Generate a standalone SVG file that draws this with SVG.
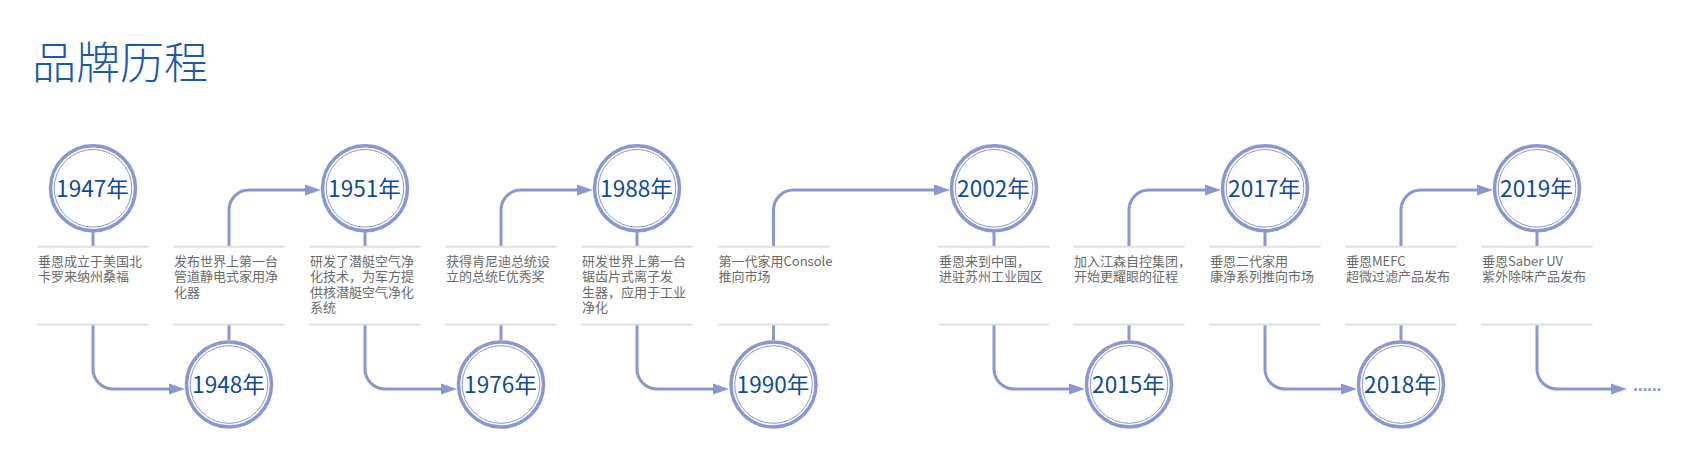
<svg xmlns="http://www.w3.org/2000/svg" width="1707" height="461" viewBox="0 0 1707 461">
<style>
.title{font-family:"Noto Sans CJK SC","Noto Sans",sans-serif;font-size:44px;font-weight:300;fill:#1b5aab}
.ring{fill:#fff;stroke:#8a97d0;stroke-width:3.5}
.inner{fill:none;stroke:#8a97d0;stroke-width:1}
.yr{font-family:"Noto Sans CJK SC","Noto Sans",sans-serif;font-size:22.6px;fill:#0f4a9c;text-anchor:middle}
.sep{stroke:#dfdfdf;stroke-width:2}
.desc{font-family:"Noto Sans CJK SC","Noto Sans",sans-serif;font-size:13px;fill:#6a6a6a}
.conn{fill:none;stroke:#8a97d0;stroke-width:3}
.dots{font-family:"Liberation Sans",sans-serif;font-size:18px;font-weight:bold;fill:#8a97d0;letter-spacing:-0.3px}
</style>
<defs>
<marker id="arr" markerUnits="userSpaceOnUse" markerWidth="16" markerHeight="12" viewBox="0 0 16 12" refX="8" refY="6" orient="auto">
<path d="M0,0.5 L16,6 L0,11.5 z" fill="#8a97d0"/>
</marker>
</defs>
<text class="title" x="32" y="79">品牌历程</text>

<g id="connectors">
<path class="conn" d="M93 232 V246 M229 325 V340 M365 232 V246 M501 325 V340 M637 232 V246 M773.5 325 V340 M994 232 V246 M1129 325 V340 M1265 232 V246 M1401 325 V340 M1537 232 V246"/>
<path class="conn" marker-end="url(#arr)" d="M93 325 V369 A20 20 0 0 0 113 389 H177"/>
<path class="conn" marker-end="url(#arr)" d="M229 246 V210 A20 20 0 0 1 249 190 H313"/>
<path class="conn" marker-end="url(#arr)" d="M365 325 V369 A20 20 0 0 0 385 389 H449"/>
<path class="conn" marker-end="url(#arr)" d="M501 246 V210 A20 20 0 0 1 521 190 H585"/>
<path class="conn" marker-end="url(#arr)" d="M637 325 V369 A20 20 0 0 0 657 389 H721"/>
<path class="conn" marker-end="url(#arr)" d="M773.5 246 V210 A20 20 0 0 1 793.5 190 H942"/>
<path class="conn" marker-end="url(#arr)" d="M994 325 V369 A20 20 0 0 0 1014 389 H1077"/>
<path class="conn" marker-end="url(#arr)" d="M1129 246 V210 A20 20 0 0 1 1149 190 H1213"/>
<path class="conn" marker-end="url(#arr)" d="M1265 325 V369 A20 20 0 0 0 1285 389 H1349"/>
<path class="conn" marker-end="url(#arr)" d="M1401 246 V210 A20 20 0 0 1 1421 190 H1485"/>
<path class="conn" marker-end="url(#arr)" d="M1537 325 V369 A20 20 0 0 0 1557 389 H1619"/>
</g>
<text class="dots" x="1633" y="391">......</text>

<g id="n1947">
<line class="sep" x1="37.5" y1="246.7" x2="148.5" y2="246.7"/><line class="sep" x1="37.5" y1="324.5" x2="148.5" y2="324.5"/>
<circle class="ring" cx="93" cy="188.3" r="42.5"/><circle class="inner" cx="93" cy="188.3" r="38.8"/>
<text class="yr" x="92.5" y="196.8">1947年</text>
<text class="desc" x="38" y="266">垂恩成立于美国北<tspan x="38" dy="15.3">卡罗来纳州桑福</tspan></text>
</g>
<g id="n1948">
<line class="sep" x1="173.5" y1="246.7" x2="284.5" y2="246.7"/><line class="sep" x1="173.5" y1="324.5" x2="284.5" y2="324.5"/>
<circle class="ring" cx="229" cy="384.5" r="42.5"/><circle class="inner" cx="229" cy="384.5" r="38.8"/>
<text class="yr" x="228.5" y="393">1948年</text>
<text class="desc" x="174" y="266">发布世界上第一台<tspan x="174" dy="15.3">管道静电式家用净</tspan><tspan x="174" dy="15.3">化器</tspan></text>
</g>
<g id="n1951">
<line class="sep" x1="309.5" y1="246.7" x2="420.5" y2="246.7"/><line class="sep" x1="309.5" y1="324.5" x2="420.5" y2="324.5"/>
<circle class="ring" cx="365" cy="188.3" r="42.5"/><circle class="inner" cx="365" cy="188.3" r="38.8"/>
<text class="yr" x="364.5" y="196.8">1951年</text>
<text class="desc" x="310" y="266">研发了潜艇空气净<tspan x="310" dy="15.3">化技术，为军方提</tspan><tspan x="310" dy="15.3">供核潜艇空气净化</tspan><tspan x="310" dy="15.3">系统</tspan></text>
</g>
<g id="n1976">
<line class="sep" x1="445.5" y1="246.7" x2="556.5" y2="246.7"/><line class="sep" x1="445.5" y1="324.5" x2="556.5" y2="324.5"/>
<circle class="ring" cx="501" cy="384.5" r="42.5"/><circle class="inner" cx="501" cy="384.5" r="38.8"/>
<text class="yr" x="500.5" y="393">1976年</text>
<text class="desc" x="446" y="266">获得肯尼迪总统设<tspan x="446" dy="15.3">立的总统E优秀奖</tspan></text>
</g>
<g id="n1988">
<line class="sep" x1="581.5" y1="246.7" x2="692.5" y2="246.7"/><line class="sep" x1="581.5" y1="324.5" x2="692.5" y2="324.5"/>
<circle class="ring" cx="637" cy="188.3" r="42.5"/><circle class="inner" cx="637" cy="188.3" r="38.8"/>
<text class="yr" x="636.5" y="196.8">1988年</text>
<text class="desc" x="582" y="266">研发世界上第一台<tspan x="582" dy="15.3">锯齿片式离子发</tspan><tspan x="582" dy="15.3">生器，应用于工业</tspan><tspan x="582" dy="15.3">净化</tspan></text>
</g>
<g id="n1990">
<line class="sep" x1="718" y1="246.7" x2="829" y2="246.7"/><line class="sep" x1="718" y1="324.5" x2="829" y2="324.5"/>
<circle class="ring" cx="773.5" cy="384.5" r="42.5"/><circle class="inner" cx="773.5" cy="384.5" r="38.8"/>
<text class="yr" x="773" y="393">1990年</text>
<text class="desc" x="718.5" y="266">第一代家用Console<tspan x="718.5" dy="15.3">推向市场</tspan></text>
</g>
<g id="n2002">
<line class="sep" x1="938.5" y1="246.7" x2="1049.5" y2="246.7"/><line class="sep" x1="938.5" y1="324.5" x2="1049.5" y2="324.5"/>
<circle class="ring" cx="994" cy="188.3" r="42.5"/><circle class="inner" cx="994" cy="188.3" r="38.8"/>
<text class="yr" x="993.5" y="196.8">2002年</text>
<text class="desc" x="939" y="266">垂恩来到中国，<tspan x="939" dy="15.3">进驻苏州工业园区</tspan></text>
</g>
<g id="n2015">
<line class="sep" x1="1073.5" y1="246.7" x2="1184.5" y2="246.7"/><line class="sep" x1="1073.5" y1="324.5" x2="1184.5" y2="324.5"/>
<circle class="ring" cx="1129" cy="384.5" r="42.5"/><circle class="inner" cx="1129" cy="384.5" r="38.8"/>
<text class="yr" x="1128.5" y="393">2015年</text>
<text class="desc" x="1074" y="266">加入江森自控集团，<tspan x="1074" dy="15.3">开始更耀眼的征程</tspan></text>
</g>
<g id="n2017">
<line class="sep" x1="1209.5" y1="246.7" x2="1320.5" y2="246.7"/><line class="sep" x1="1209.5" y1="324.5" x2="1320.5" y2="324.5"/>
<circle class="ring" cx="1265" cy="188.3" r="42.5"/><circle class="inner" cx="1265" cy="188.3" r="38.8"/>
<text class="yr" x="1264.5" y="196.8">2017年</text>
<text class="desc" x="1210" y="266">垂恩二代家用<tspan x="1210" dy="15.3">康净系列推向市场</tspan></text>
</g>
<g id="n2018">
<line class="sep" x1="1345.5" y1="246.7" x2="1456.5" y2="246.7"/><line class="sep" x1="1345.5" y1="324.5" x2="1456.5" y2="324.5"/>
<circle class="ring" cx="1401" cy="384.5" r="42.5"/><circle class="inner" cx="1401" cy="384.5" r="38.8"/>
<text class="yr" x="1400.5" y="393">2018年</text>
<text class="desc" x="1346" y="266">垂恩MEFC<tspan x="1346" dy="15.3">超微过滤产品发布</tspan></text>
</g>
<g id="n2019">
<line class="sep" x1="1481.5" y1="246.7" x2="1592.5" y2="246.7"/><line class="sep" x1="1481.5" y1="324.5" x2="1592.5" y2="324.5"/>
<circle class="ring" cx="1537" cy="188.3" r="42.5"/><circle class="inner" cx="1537" cy="188.3" r="38.8"/>
<text class="yr" x="1536.5" y="196.8">2019年</text>
<text class="desc" x="1482" y="266">垂恩Saber UV<tspan x="1482" dy="15.3">紫外除味产品发布</tspan></text>
</g>
</svg>
